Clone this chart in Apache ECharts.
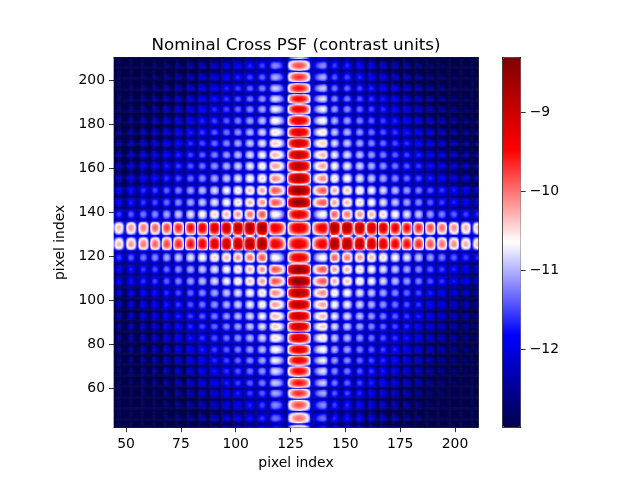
<!DOCTYPE html>
<html><head><meta charset="utf-8">
<script src="https://cdn.jsdelivr.net/npm/echarts@6/dist/echarts.min.js"></script>
<style>html,body{margin:0;padding:0;background:#fff}#c{width:640px;height:480px}</style>
</head><body><div id="c"></div>
<script>
// ---- text / ticks ----
const titleText = 'Nominal Cross PSF (contrast units)';
const xAxisName = 'pixel index';
const yAxisName = 'pixel index';
const xTickValues = [50, 75, 100, 125, 150, 175, 200];
const yTickValues = [60, 80, 100, 120, 140, 160, 180, 200];
const cbarTickValues = [-12, -11, -10, -9];
const xRange = [44.5, 210.5];
const yRange = [42.5, 210.5];
const valueRange = [-12.99, -8.31];

// ---- lobe lattice (pixel index units) ----
// columns (x): lobe centres, horizontal-arm peak level, vertical-arm fall-off
const xLobes = [36.0, 41.4, 46.9, 52.4, 58.1, 63.4, 68.7, 74.0, 79.6, 84.9, 90.5, 96.0, 101.1, 106.6, 112.2, 117.8,
  129.0,
  140.3, 145.1, 151.0, 156.8, 162.1, 167.4, 172.9, 178.2, 183.6, 188.9, 194.2, 199.7, 205.1, 210.5, 215.9];
const hArmLevels = [-10.5, -10.4, -10.3, -10.15, -10.0, -9.9, -9.75, -9.6, -9.45, -9.3, -9.15, -9.0, -8.85, -8.7, -8.55, -9.3,
  -9.2,
  -9.3, -8.6, -8.7, -8.85, -9.0, -9.15, -9.3, -9.45, -9.6, -9.8, -9.95, -10.1, -10.25, -10.35, -10.45];
const vArmColOffsets = [-4.2, -4.1, -4.0, -3.9, -3.8, -3.65, -3.5, -3.35, -3.2, -3.05, -2.85, -2.6, -2.35, -2.1, -1.8, -1.4,
  0,
  -1.4, -1.8, -2.1, -2.35, -2.6, -2.85, -3.05, -3.2, -3.35, -3.5, -3.65, -3.8, -3.9, -4.0, -4.1];
// rows (y): lobe centres, vertical-arm peak level, horizontal-arm fall-off
const yLobes = [36.2, 41.4, 46.6, 52.7, 58.1, 62.6, 68.1, 72.9, 77.8, 83.1, 88.4, 92.9, 98.3, 103.6, 108.9, 114.3, 119.6,
  125.7, 133.3,
  139.4, 144.7, 150.2, 155.6, 161.4, 166.3, 171.7, 176.6, 181.9, 187.2, 191.8, 196.6, 201.7, 207.0, 212.2, 217.4];
const vArmLevels = [-10.2, -10.05, -9.95, -9.8, -9.65, -9.5, -9.4, -9.3, -9.2, -9.1, -9.0, -8.9, -8.8, -8.7, -8.45, -8.45, -9.2,
  -9.2, -9.2,
  -9.2, -8.45, -8.45, -8.7, -8.8, -8.9, -9.0, -9.1, -9.2, -9.3, -9.4, -9.5, -9.65, -9.8, -9.95, -10.1];
const hArmRowOffsets = [-3.2, -3.15, -3.1, -3.05, -3.0, -2.9, -2.8, -2.7, -2.6, -2.5, -2.4, -2.3, -2.15, -2.0, -1.85, -1.6, -1.3,
  0, 0,
  -1.3, -1.6, -1.85, -2.0, -2.15, -2.3, -2.4, -2.5, -2.6, -2.7, -2.8, -2.9, -3.0, -3.05, -3.1, -3.15];
const diagonalOffset = 6.8;   // level of the off-arm halo relative to the product of the two arms
const gapBase = -12.35, gapRef = -10.7, gapSlope = 0.3, gapMinDrop = 1.0;  // level between lobes
const floorLevel = -13.5;
const lobeEdgePower = 2;
const cellStep = 0.5;

const seismic = ['#00004c', '#0000ff', '#ffffff', '#ff0000', '#7f0000'];
const FONT = 'DejaVu Sans';

function lobeAt(lobes, v) {
  const n = lobes.length;
  for (let i = 0; i < n; i++) {
    const c = lobes[i];
    const lo = i > 0 ? (lobes[i - 1] + c) / 2 : c - (lobes[1] - lobes[0]) / 2;
    const hi = i < n - 1 ? (c + lobes[i + 1]) / 2 : c + (lobes[n - 1] - lobes[n - 2]) / 2;
    if (v >= lo && v < hi) {
      const t = v < c ? (c - v) / (c - lo) : (v - c) / (hi - c);
      const s = Math.pow(Math.max(0, Math.cos(Math.PI / 2 * t)), lobeEdgePower);
      return { i: i, s: s };
    }
  }
  return { i: 0, s: 0 };
}

const xCats = [], yCats = [];
for (let x = xRange[0] + cellStep / 2; x < xRange[1]; x += cellStep) xCats.push(+x.toFixed(2));
for (let y = yRange[0] + cellStep / 2; y < yRange[1]; y += cellStep) yCats.push(+y.toFixed(2));
const xInfo = xCats.map(x => lobeAt(xLobes, x));
const yInfo = yCats.map(y => lobeAt(yLobes, y));
const cells = [];
for (let a = 0; a < xCats.length; a++) {
  const xi = xInfo[a];
  for (let b = 0; b < yCats.length; b++) {
    const yi = yInfo[b];
    const h = hArmLevels[xi.i], vv = vArmLevels[yi.i];
    const peakLevel = Math.max(h + hArmRowOffsets[yi.i], vv + vArmColOffsets[xi.i], h + vv + diagonalOffset);
    const gapLevel = Math.min(gapBase + gapSlope * (peakLevel - gapRef), peakLevel - gapMinDrop);
    let v = Math.log10(Math.pow(10, peakLevel) * xi.s * yi.s + Math.pow(10, gapLevel) + Math.pow(10, floorLevel));
    v = Math.max(valueRange[0], Math.min(valueRange[1], v));
    cells.push([a, b, v]);
  }
}

const G = { left: 114, top: 57.6, width: 364, height: 369.6 };
const CB = { left: 502.7, top: 57.6, width: 18, height: 369.6 };
const lineStyle = { color: '#000', width: 0.8 };
const lbl = { color: '#000', fontFamily: FONT, fontSize: 13.9 };
const minus = v => (v < 0 ? '\u2212' : '') + Math.abs(v);

const chart = echarts.init(document.getElementById('c'), null, { renderer: 'canvas' });
chart.setOption({
  animation: false,
  backgroundColor: '#fff',
  title: {
    text: titleText, left: G.left + G.width / 2, top: 37, textAlign: 'center', padding: 0,
    textStyle: { fontFamily: FONT, fontSize: 16.7, fontWeight: 'normal', color: '#000' }
  },
  grid: [
    Object.assign({ containLabel: false }, G),
    Object.assign({ containLabel: false }, G),
    Object.assign({ containLabel: false }, CB)
  ],
  visualMap: {
    type: 'continuous', min: valueRange[0], max: valueRange[1], seriesIndex: 0,
    calculable: false, hoverLink: false, show: true, padding: 0,
    left: CB.left, top: CB.top, itemWidth: CB.width, itemHeight: CB.height,
    text: null, inRange: { color: seismic }
  },
  xAxis: [
    { type: 'category', gridIndex: 0, data: xCats, show: false },
    {
      type: 'value', gridIndex: 1, min: xRange[0], max: xRange[1], position: 'bottom',
      axisLine: { show: true, onZero: false, lineStyle }, splitLine: { show: false },
      axisTick: { show: true, length: 5, lineStyle, customValues: xTickValues },
      axisLabel: Object.assign({ margin: 10, customValues: xTickValues }, lbl),
      name: xAxisName, nameLocation: 'middle', nameGap: 27, nameTextStyle: lbl
    },
    { type: 'value', gridIndex: 1, min: xRange[0], max: xRange[1], position: 'top',
      axisLine: { show: true, onZero: false, lineStyle }, axisTick: { show: false }, axisLabel: { show: false }, splitLine: { show: false } },
    { type: 'value', gridIndex: 2, min: 0, max: 1, position: 'bottom',
      axisLine: { show: true, onZero: false, lineStyle }, axisTick: { show: false }, axisLabel: { show: false }, splitLine: { show: false } },
    { type: 'value', gridIndex: 2, min: 0, max: 1, position: 'top',
      axisLine: { show: true, onZero: false, lineStyle }, axisTick: { show: false }, axisLabel: { show: false }, splitLine: { show: false } }
  ],
  yAxis: [
    { type: 'category', gridIndex: 0, data: yCats, show: false },
    {
      type: 'value', gridIndex: 1, min: yRange[0], max: yRange[1], position: 'left',
      axisLine: { show: true, onZero: false, lineStyle }, splitLine: { show: false },
      axisTick: { show: true, length: 5, lineStyle, customValues: yTickValues },
      axisLabel: Object.assign({ margin: 9, customValues: yTickValues }, lbl),
      name: yAxisName, nameLocation: 'middle', nameGap: 36, nameTextStyle: lbl
    },
    { type: 'value', gridIndex: 1, min: yRange[0], max: yRange[1], position: 'right',
      axisLine: { show: true, onZero: false, lineStyle }, axisTick: { show: false }, axisLabel: { show: false }, splitLine: { show: false } },
    { type: 'value', gridIndex: 2, min: valueRange[0], max: valueRange[1], position: 'left',
      axisLine: { show: true, onZero: false, lineStyle }, axisTick: { show: false }, axisLabel: { show: false }, splitLine: { show: false } },
    {
      type: 'value', gridIndex: 2, min: valueRange[0], max: valueRange[1], position: 'right',
      axisLine: { show: true, onZero: false, lineStyle }, splitLine: { show: false },
      axisTick: { show: true, length: 5, lineStyle, customValues: cbarTickValues },
      axisLabel: Object.assign({ margin: 9, customValues: cbarTickValues, formatter: minus }, lbl)
    }
  ],
  series: [{
    type: 'heatmap', xAxisIndex: 0, yAxisIndex: 0, data: cells,
    progressive: 0, animation: false, emphasis: { disabled: true }, silent: true
  }]
});
</script></body></html>
